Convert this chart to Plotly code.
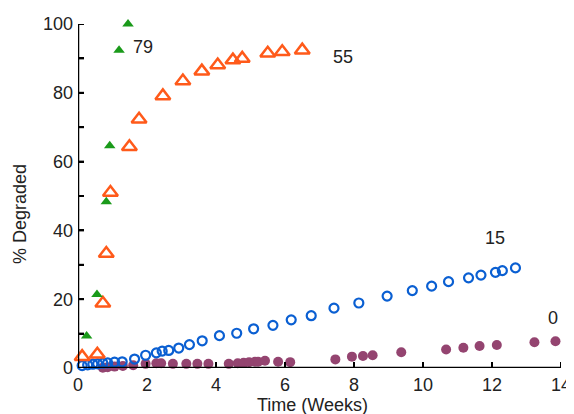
import plotly.graph_objects as go

# --- data ---
weeks_79 = [0.25, 0.55, 0.82, 0.92, 1.19, 1.45]
deg_79 = [9.3, 21.4, 48.3, 64.6, 92.4, 100.0]

weeks_55 = [0.12, 0.56, 0.72, 0.82, 0.94, 1.49, 1.77, 2.46, 3.04, 3.59, 4.05, 4.49, 4.76, 5.50, 5.92, 6.50]
deg_55 = [3.3, 4.0, 18.8, 33.3, 51.0, 64.3, 72.3, 79.1, 83.4, 86.3, 88.1, 89.5, 90.0, 91.5, 91.9, 92.4]

weeks_15 = [0.12, 0.28, 0.43, 0.57, 0.72, 0.86, 1.06, 1.28, 1.64, 1.96, 2.27, 2.44, 2.63, 2.92,
            3.23, 3.60, 4.10, 4.60, 5.09, 5.65, 6.18, 6.76, 7.42, 8.14, 8.96, 9.69, 10.25,
            10.74, 11.32, 11.68, 12.10, 12.30, 12.68]
deg_15 = [0.7, 0.9, 1.1, 1.2, 1.4, 1.5, 1.7, 1.8, 2.6, 3.7, 4.4, 4.9, 5.1, 5.8,
          6.8, 7.9, 9.4, 10.1, 11.4, 12.4, 14.0, 15.2, 17.4, 18.9, 20.9, 22.5, 23.8,
          25.1, 26.2, 27.0, 27.8, 28.3, 29.1]

weeks_0 = [0.12, 0.28, 0.43, 0.57, 0.72, 0.86, 1.06, 1.30, 1.60, 1.96, 2.27, 2.41, 2.75, 3.14,
           3.46, 3.78, 4.37, 4.63, 4.80, 4.96, 5.13, 5.22, 5.42, 5.80, 6.15, 7.46, 7.94,
           8.26, 8.54, 9.37, 10.67, 11.17, 11.64, 12.14, 13.23, 13.84]
deg_0 = [-0.3, -0.3, -0.2, -0.1, 0.1, 0.2, 0.4, 0.6, 0.8, 1.2, 1.4, 1.4, 1.2, 1.2,
         1.2, 1.2, 1.2, 1.4, 1.5, 1.7, 1.8, 1.8, 2.1, 1.8, 1.7, 2.5, 3.3,
         3.5, 3.7, 4.6, 5.4, 5.9, 6.4, 6.7, 7.5, 7.8]

series_labels = ["79", "55", "15", "0"]
label_x = [1.88, 7.67, 12.09, 13.78]
label_y = [93.4, 90.5, 37.7, 14.4]

x_ticks = [0, 2, 4, 6, 8, 10, 12, 14]
y_ticks = [0, 10, 20, 30, 40, 50, 60, 70, 80, 90, 100]
y_tick_text = ["0", "", "20", "", "40", "", "60", "", "80", "", "100"]

FONT = "Arial, 'Liberation Sans', sans-serif"
TXT = "#222222"
X_RANGE = [0, 14]
Y_RANGE = [0, 100]

fig = go.Figure()
fig.add_trace(go.Scatter(x=weeks_0, y=deg_0, mode="markers", cliponaxis=False,
                         marker=dict(symbol="circle", size=10, color="#944470")))
fig.add_trace(go.Scatter(x=weeks_15, y=deg_15, mode="markers", cliponaxis=False,
                         marker=dict(symbol="circle-open", size=9, color="#0a5fd2",
                                     line=dict(width=2.2, color="#0a5fd2"))))
fig.add_trace(go.Scatter(x=weeks_55, y=deg_55, mode="markers", cliponaxis=False,
                         marker=dict(symbol="triangle-up-open", size=13, color="#ff5a1a",
                                     line=dict(width=2.5, color="#ff5a1a"))))
fig.add_trace(go.Scatter(x=weeks_79, y=deg_79, mode="markers", cliponaxis=False,
                         marker=dict(symbol="triangle-up", size=10, color="#1a9a1a")))

for t, xx, yy in zip(series_labels, label_x, label_y):
    fig.add_annotation(x=xx, y=yy, text=t, showarrow=False,
                       xanchor="center", yanchor="middle",
                       font=dict(family=FONT, size=18, color=TXT))

fig.add_annotation(xref="paper", yref="paper", x=0.4855, y=-0.1076, text="Time (Weeks)",
                   xanchor="center", yanchor="middle",
                   showarrow=False, font=dict(family=FONT, size=18, color=TXT))
fig.add_annotation(xref="paper", yref="paper", x=-0.12, y=0.448, text="% Degraded",
                   xanchor="center", yanchor="middle",
                   textangle=-90, showarrow=False, font=dict(family=FONT, size=18, color=TXT))

# axis lines and inside ticks drawn as layout shapes (pixel-length ticks)
axis_line = dict(color="black", width=2.5)
tick_line = dict(color="black", width=2)
fig.add_shape(type="line", xref="x", yref="y", x0=X_RANGE[0], x1=X_RANGE[0],
              y0=Y_RANGE[0], y1=Y_RANGE[1], line=axis_line, layer="above")
fig.add_shape(type="line", xref="x", yref="y", x0=X_RANGE[0], x1=X_RANGE[1],
              y0=Y_RANGE[0], y1=Y_RANGE[0], line=axis_line, layer="above")
for xv in x_ticks:
    fig.add_shape(type="line", xref="x", yref="y", ysizemode="pixel", yanchor=Y_RANGE[0],
                  x0=xv, x1=xv, y0=0, y1=6, line=tick_line, layer="above")
for yv in y_ticks:
    fig.add_shape(type="line", xref="x", yref="y", xsizemode="pixel", xanchor=X_RANGE[0],
                  x0=0, x1=6, y0=yv, y1=yv, line=tick_line, layer="above")

# page body adds an 8px offset; figure size/margins compensate for it
fig.update_layout(
    width=566, height=406,
    margin=dict(l=70, r=13, t=16, b=46, autoexpand=False),
    paper_bgcolor="white", plot_bgcolor="white",
    showlegend=False,
    font=dict(family=FONT, size=18, color=TXT),
    xaxis=dict(range=X_RANGE, tickmode="array", tickvals=x_ticks, ticktext=[str(v) for v in x_ticks],
               automargin=False, showgrid=False, zeroline=False, showline=False,
               ticks="inside", ticklen=6, tickwidth=2, tickcolor="#000000",
               ticklabelstandoff=4,
               tickfont=dict(family=FONT, size=18, color=TXT)),
    yaxis=dict(range=Y_RANGE, tickmode="array", tickvals=y_ticks, ticktext=y_tick_text,
               automargin=False, showgrid=False, zeroline=False, showline=False,
               ticks="inside", ticklen=6, tickwidth=2, tickcolor="#000000",
               ticklabelstandoff=4,
               tickfont=dict(family=FONT, size=18, color=TXT)),
)

fig.write_html("out.html")
